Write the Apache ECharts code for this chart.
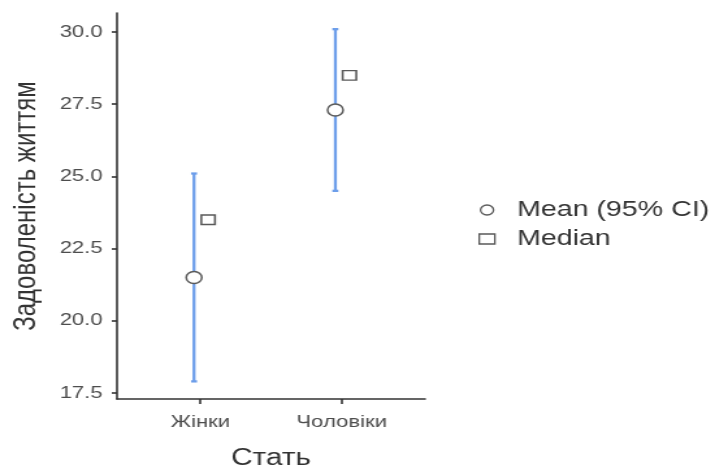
<!DOCTYPE html>
<html>
<head>
<meta charset="utf-8">
<script src="https://cdn.jsdelivr.net/npm/echarts@6/dist/echarts.min.js"></script>
<style>
  html, body { margin: 0; padding: 0; background: #fff; overflow: hidden; }
  /* reference is stretched sideways, so draw narrower and stretch */
  #chart { width: 550px; height: 472px; transform: scaleX(1.3); transform-origin: 0 0; }
</style>
</head>
<body>
<div id="chart"></div>
<script>
// data
const categories = ['Жінки', 'Чоловіки'];
const meanValues = [21.5, 27.3];
const ciLower = [17.9, 24.5];
const ciUpper = [25.1, 30.1];
const medianValues = [23.5, 28.5];
const yTicks = [17.5, 20.0, 22.5, 25.0, 27.5, 30.0];
const xTicks = [1, 2];

// dodge of the two marks around each category
const MEAN_SHIFT = -0.045;
const MEDIAN_SHIFT = 0.055;
const BAR_COLOR = '#6d9eea';
const MARK_COLOR = '#5a5a5a';

const chart = echarts.init(document.getElementById('chart'));

const option = {
  animation: false,
  textStyle: { fontFamily: 'Liberation Sans, Arial, sans-serif' },
  grid: { left: 90, right: 223, top: 13, bottom: 73, outerBoundsMode: 'none' },
  legend: {
    orient: 'vertical',
    left: 363,
    top: 194,
    itemWidth: 12,
    itemHeight: 10,
    itemGap: 7,
    textStyle: { fontSize: 22, color: '#333', padding: [0, 0, 0, 12] },
    data: [
      { name: 'Mean (95% CI)', icon: 'circle', itemStyle: { color: '#fff', borderColor: MARK_COLOR, borderWidth: 1.3 } },
      { name: 'Median', icon: 'rect', itemStyle: { color: '#fff', borderColor: MARK_COLOR, borderWidth: 1.3 } }
    ]
  },
  xAxis: {
    type: 'value',
    min: 0.41,
    max: 2.59,
    name: 'Стать',
    nameLocation: 'middle',
    nameGap: 48,
    nameTextStyle: { fontSize: 23, color: '#333' },
    axisLine: { lineStyle: { color: '#333', width: 1.6 } },
    axisTick: { customValues: xTicks, length: 5, lineStyle: { color: '#333', width: 1.6 } },
    axisLabel: {
      customValues: xTicks,
      fontSize: 17,
      color: '#4d4d4d',
      margin: 15,
      formatter: function (v) { return categories[Math.round(v) - 1]; }
    },
    splitLine: { show: false }
  },
  yAxis: {
    type: 'value',
    min: 17.29,
    max: 30.66,
    name: 'Задоволеність життям',
    nameLocation: 'middle',
    nameGap: 58,
    nameTextStyle: { fontSize: 24, color: '#333' },
    axisLine: { show: true, lineStyle: { color: '#333', width: 1.6 } },
    axisTick: { show: true, customValues: yTicks, length: 4, lineStyle: { color: '#333', width: 1.6 } },
    axisLabel: {
      customValues: yTicks,
      fontSize: 17,
      color: '#4d4d4d',
      margin: 11,
      formatter: function (v) { return v.toFixed(1); }
    },
    splitLine: { show: false }
  },
  series: [
    {
      // 95% CI bars
      type: 'custom',
      z: 1,
      encode: { x: 0, y: [1, 2] },
      data: categories.map((c, i) => [i + 1 + MEAN_SHIFT, ciLower[i], ciUpper[i]]),
      renderItem: function (params, api) {
        const x = api.value(0);
        const lo = api.coord([x, api.value(1)]);
        const hi = api.coord([x, api.value(2)]);
        const cap = 2.3;
        const style = { stroke: BAR_COLOR, lineWidth: 2.3 };
        return {
          type: 'group',
          children: [
            { type: 'line', shape: { x1: lo[0], y1: lo[1], x2: hi[0], y2: hi[1] }, style: style },
            { type: 'line', shape: { x1: lo[0] - cap, y1: lo[1], x2: lo[0] + cap, y2: lo[1] }, style: style },
            { type: 'line', shape: { x1: hi[0] - cap, y1: hi[1], x2: hi[0] + cap, y2: hi[1] }, style: style }
          ]
        };
      }
    },
    {
      name: 'Mean (95% CI)',
      type: 'scatter',
      z: 3,
      symbol: 'circle',
      symbolSize: 12,
      itemStyle: { color: '#fff', borderColor: MARK_COLOR, borderWidth: 1.5, opacity: 1 },
      data: meanValues.map((v, i) => [i + 1 + MEAN_SHIFT, v])
    },
    {
      name: 'Median',
      type: 'scatter',
      z: 3,
      symbol: 'rect',
      symbolSize: [10.5, 9.5],
      itemStyle: { color: '#fff', borderColor: MARK_COLOR, borderWidth: 1.5, opacity: 1 },
      data: medianValues.map((v, i) => [i + 1 + MEDIAN_SHIFT, v])
    }
  ]
};

chart.setOption(option);
</script>
</body>
</html>
